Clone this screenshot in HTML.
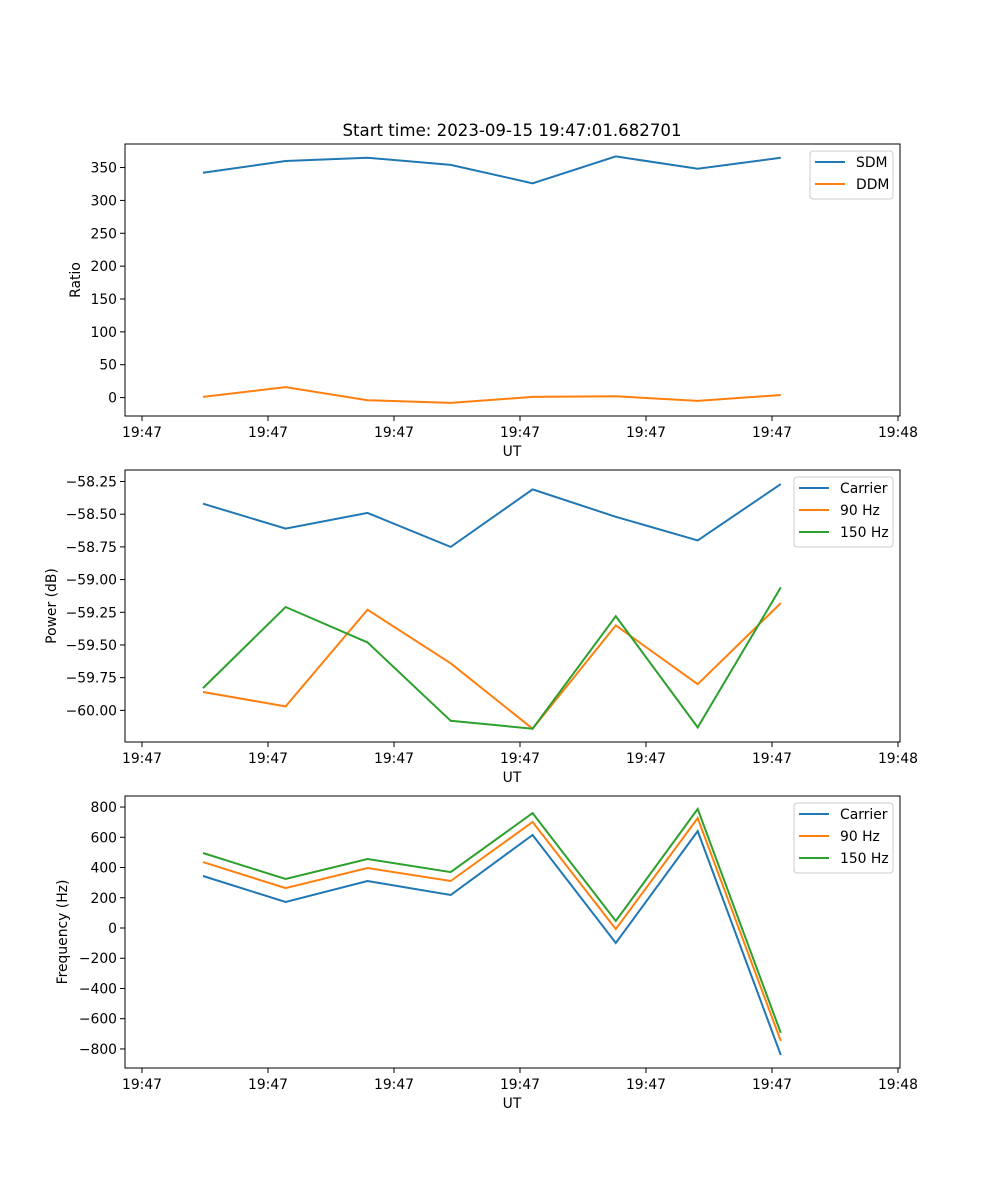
<!DOCTYPE html>
<html><head><meta charset="utf-8"><style>
body{margin:0;background:#fff}
svg{display:block;font-family:"DejaVu Sans","Liberation Sans",sans-serif}
</style></head><body>
<svg id="fig" width="1000" height="1200" xmlns="http://www.w3.org/2000/svg">
<rect width="1000" height="1200" fill="#fff"/>
<text x="512" y="136" font-size="16.6" text-anchor="middle" fill="#000">Start time: 2023-09-15 19:47:01.682701</text>
</svg>
<script>
// time (seconds offset) of samples and ticks
const times = [4.84, 11.4, 17.9, 24.5, 31.0, 37.6, 44.1, 50.7];
const xTicks = [0, 10, 20, 30, 40, 50, 60];
const xTickLabels = ["19:47","19:47","19:47","19:47","19:47","19:47","19:48"];
// panel 1
const sdm = [342, 360, 365, 354, 326, 367, 348, 365];
const ddm = [1, 16, -4, -8, 1, 2, -5, 4];
const ratioTicks = [0, 50, 100, 150, 200, 250, 300, 350];
// panel 2
const powCarrier = [-58.42, -58.61, -58.49, -58.75, -58.31, -58.52, -58.70, -58.27];
const pow90 = [-59.86, -59.97, -59.23, -59.64, -60.14, -59.35, -59.80, -59.18];
const pow150 = [-59.83, -59.21, -59.48, -60.08, -60.14, -59.28, -60.13, -59.06];
const powTicks = [-60.00, -59.75, -59.50, -59.25, -59.00, -58.75, -58.50, -58.25];
// panel 3
const freqCarrier = [344, 172, 311, 218, 615, -99, 641, -840];
const freq90 = [436, 264, 397, 311, 701, -7, 727, -747];
const freq150 = [496, 324, 456, 370, 760, 46, 787, -694];
const freqTicks = [-800, -600, -400, -200, 0, 200, 400, 600, 800];

const NS = "http://www.w3.org/2000/svg";
const svg = document.getElementById("fig");
const X0 = 125, X1 = 900, xMin = -1.35, xMax = 60.16;
const xs = v => X0 + (v - xMin) / (xMax - xMin) * (X1 - X0);
function mk(tag, attrs, parent) {
  const e = document.createElementNS(NS, tag);
  for (const k in attrs) e.setAttribute(k, attrs[k]);
  (parent || svg).appendChild(e);
  return e;
}
const C = {blue:"#1f77b4", orange:"#ff7f0e", green:"#2ca02c"};

function panel(name, top, yMin, yMax, yTicks, fmt, ylabel, ylabelX, series, legend) {
  const bot = top + 272;
  const ys = v => bot - (v - yMin) / (yMax - yMin) * 272;
  const g = mk("g", {});
  
  
  series.forEach(s => {
    const p = mk("polyline", {points: s.vals.map((v, i) => xs(times[i]).toFixed(1) + "," + ys(v).toFixed(1)).join(" "), fill: "none", stroke: s.color, "stroke-width": 2}, g);
    
    
  });
  const fr = mk("rect", {x: X0, y: top, width: X1 - X0, height: 272, fill: "none", stroke: "#000", "stroke-width": 1}, g);
  
  
  xTicks.forEach((t, i) => {
    const x = xs(t);
    mk("line", {x1: x, x2: x, y1: bot, y2: bot + 5, stroke: "#000"}, g);
    const tx = mk("text", {x: x, y: bot + 21, "font-size": 13.9, "text-anchor": "middle"}, g);
    tx.textContent = xTickLabels[i];
    
    
  });
  yTicks.forEach(t => {
    const y = ys(t);
    mk("line", {x1: X0, x2: X0 - 5, y1: y, y2: y, stroke: "#000"}, g);
    const tx = mk("text", {x: X0 - 8, y: y + 5, "font-size": 13.9, "text-anchor": "end"}, g);
    tx.textContent = fmt(t);
    
    
  });
  const xl = mk("text", {x: 512, y: bot + 40, "font-size": 13.9, "text-anchor": "middle"}, g);
  xl.textContent = "UT";
  
  
  const cy = top + 136;
  const yl = mk("text", {x: ylabelX, y: cy, "font-size": 13.9, "text-anchor": "middle", transform: `rotate(-90 ${ylabelX} ${cy})`}, g);
  yl.textContent = ylabel;
  
  
  // legend
  const lg = mk("g", {}, g);
  
  
  mk("rect", {x: legend.x, y: top + 7, width: 893 - legend.x, height: series.length * 22 + 4, rx: 3, fill: "#fff", stroke: "#ccc", "fill-opacity": 0.8}, lg);
  series.forEach((s, i) => {
    const y = top + 18 + i * 22;
    mk("line", {x1: legend.x + 5, x2: legend.x + 35, y1: y, y2: y, stroke: s.color, "stroke-width": 2}, lg);
    const t = mk("text", {x: legend.x + 46, y: y + 5, "font-size": 13.9}, lg);
    t.textContent = s.label;
    
    
  });
}

panel("ratio", 144, -28, 385.8, ratioTicks, v => String(v), "Ratio", 80,
  [{id: "sdm", label: "SDM", vals: sdm, color: C.blue}, {id: "ddm", label: "DDM", vals: ddm, color: C.orange}], {x: 810});
panel("power", 470, -60.242, -58.162, powTicks, v => v.toFixed(2).replace("-", "\u2212"), "Power (dB)", 56,
  [{id: "carrier", label: "Carrier", vals: powCarrier, color: C.blue}, {id: "90hz", label: "90 Hz", vals: pow90, color: C.orange}, {id: "150hz", label: "150 Hz", vals: pow150, color: C.green}], {x: 794});
panel("frequency", 796, -926, 873, freqTicks, v => String(v).replace("-", "\u2212"), "Frequency (Hz)", 67,
  [{id: "carrier", label: "Carrier", vals: freqCarrier, color: C.blue}, {id: "90hz", label: "90 Hz", vals: freq90, color: C.orange}, {id: "150hz", label: "150 Hz", vals: freq150, color: C.green}], {x: 794});
</script>
</body></html>
